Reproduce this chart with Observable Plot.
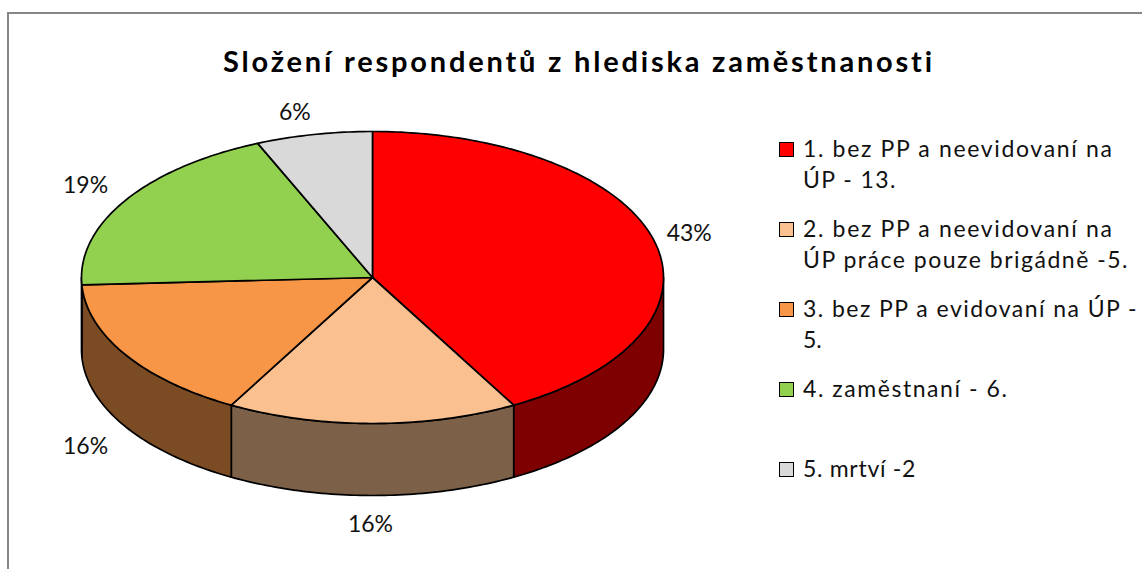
<!DOCTYPE html>
<html lang="cs">
<head>
<meta charset="utf-8">
<script src="https://cdn.jsdelivr.net/npm/d3@7"></script>
<script src="https://cdn.jsdelivr.net/npm/@observablehq/plot@0.6"></script>
<style>
html,body{margin:0;padding:0;background:#fff;overflow:hidden;}
#chart{position:relative;width:1142px;height:569px;overflow:hidden;font-family:Lato,"Open Sans",sans-serif;color:#111;}
#chart svg{position:absolute;left:0;top:0;background:transparent;}
#frame{position:absolute;left:7px;top:12px;right:-5px;bottom:-5px;border-top:2px solid #868686;border-left:2px solid #868686;}
#title{position:absolute;left:223px;top:41px;font-size:29px;font-weight:700;line-height:40px;white-space:nowrap;letter-spacing:2.8px;color:#000;}
#legend{position:absolute;left:779px;top:133px;font-size:23px;line-height:31px;}
.item{position:relative;height:80px;padding-left:24px;box-sizing:border-box;white-space:nowrap;}
.item span.sw{position:absolute;left:0;top:9px;width:13px;height:13px;border:1.5px solid #000;}
.item div{height:31px;}
</style>
</head>
<body>
<div id="chart"><div id="frame"></div><div id="title"></div><div id="legend"></div></div>
<script>
const titleText = "Složení respondentů z hlediska zaměstnanosti";
const categories = ["1","2","3","4","5"];
const counts = [13, 5, 5, 6, 2];
const percentLabels = ["43%", "16%", "16%", "19%", "6%"];
const colors = ["#FF0000", "#FAC090", "#F79646", "#92D050", "#D9D9D9"];
const sideColors = ["#7F0000", "#7D6048", "#7B4B23", "#496828", "#6C6C6C"];
const legendLines = [
  ["1. bez PP a neevidovaní na", "ÚP - 13."],
  ["2. bez PP a neevidovaní na", "ÚP práce pouze brigádně -5."],
  ["3. bez PP a evidovaní na ÚP -", "5."],
  ["4. zaměstnaní - 6."],
  ["5. mrtví -2"]
];
const legendSpacing = [[1.65, 1.4], [1.65, 1.5], [1.45, 0], [1.55], [0.7]];
const labelOffsets = [[35, -7], [-2, 29], [-40, 20], [-40, -15], [-19, -22]];

// page geometry
const W = 1142, H = 569, CX = 372, CY = 277, RX = 291, RY = 146, DEPTH = 72 / 146;

const total = d3.sum(counts);
const cum = d3.cumsum(counts);
const slices = counts.map((v, i) => ({
  a0: ((cum[i] - v) / total) * 2 * Math.PI,
  a1: (cum[i] / total) * 2 * Math.PI,
  i
}));
const rim = (a, drop = 0) => ({x: Math.sin(a), y: -Math.cos(a) + drop});
const arc = (a0, a1, drop = 0) => {
  const n = Math.max(2, Math.ceil((a1 - a0) * 60));
  return d3.range(n + 1).map(k => rim(a0 + (a1 - a0) * k / n, drop));
};

const lineStyle = {x: "x", y: "y", stroke: "#000", strokeWidth: 1.7, strokeLinejoin: "round", curve: "linear-closed"};

// visible outer wall: the part of each slice between 90° and 270°
const sideMarks = slices.flatMap(s => {
  const a0 = Math.max(s.a0, Math.PI / 2), a1 = Math.min(s.a1, 1.5 * Math.PI);
  if (a1 <= a0) return [];
  const pts = [...arc(a0, a1), ...arc(a0, a1, DEPTH).reverse()];
  return [Plot.line(pts, {...lineStyle, fill: sideColors[s.i]})];
});
const topMarks = slices.map(s =>
  Plot.line([{x: 0, y: 0}, ...arc(s.a0, s.a1)], {...lineStyle, fill: colors[s.i]})
);
const labelMarks = slices.map(s => {
  const mid = (s.a0 + s.a1) / 2;
  const front = Math.cos(mid) < 0;
  return Plot.text([rim(mid, front ? DEPTH : 0)], {
    x: "x", y: "y", text: () => percentLabels[s.i],
    dx: labelOffsets[s.i][0], dy: labelOffsets[s.i][1],
    fontSize: 23, fill: "#111", lineAnchor: "middle", textAnchor: "middle"
  });
});

const plot = Plot.plot({
  width: W, height: H, margin: 0,
  style: {fontFamily: "Lato, 'Open Sans', sans-serif", background: "transparent"},
  x: {domain: [-CX / RX, (W - CX) / RX], range: [0, W], axis: null},
  y: {domain: [-CY / RY, (H - CY) / RY], range: [0, H], axis: null},
  marks: [...sideMarks, ...topMarks, ...labelMarks]
});
const chart = document.getElementById("chart");
chart.insertBefore(plot, document.getElementById("title"));

document.getElementById("title").textContent = titleText;
const legend = document.getElementById("legend");
categories.forEach((c, i) => {
  const item = document.createElement("div");
  item.className = "item";
  const sw = document.createElement("span");
  sw.className = "sw";
  sw.style.background = colors[i];
  item.appendChild(sw);
  legendLines[i].forEach((t, j) => {
    const line = document.createElement("div");
    line.textContent = t;
    line.style.letterSpacing = legendSpacing[i][j] + "px";
    item.appendChild(line);
  });
  legend.appendChild(item);
});
</script>
</body>
</html>
